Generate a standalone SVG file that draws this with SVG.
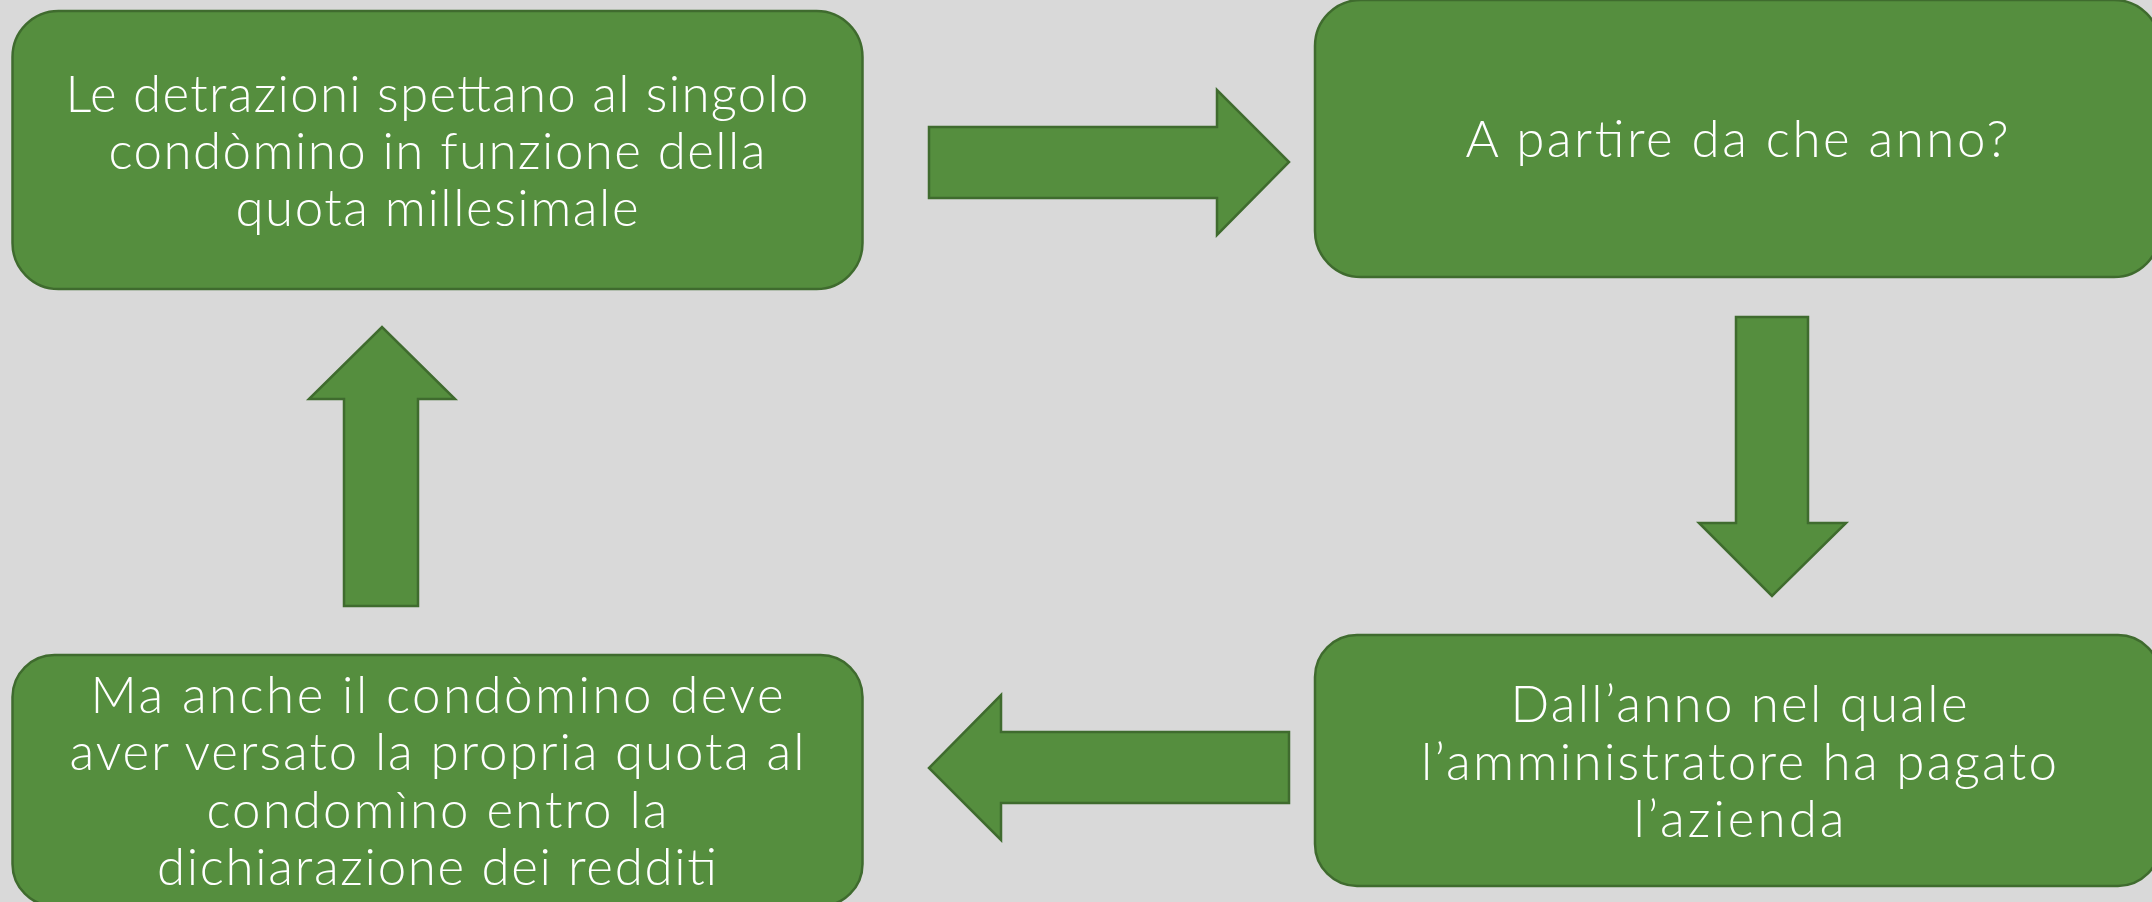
<svg xmlns="http://www.w3.org/2000/svg" width="2152" height="902" viewBox="0 0 2152 902">
<style>
.box{fill:#558E3E;stroke:#3F6B2E;stroke-width:2.5}
.arr{fill:#558E3E;stroke:#3F6B2E;stroke-width:2.5;stroke-linejoin:miter}
.t{font-family:Lato,"Open Sans","Liberation Sans",sans-serif;font-weight:300;font-size:51px;fill:#FFFFFF;text-anchor:middle}
</style>
<rect width="2152" height="902" fill="#D9D9D9"/>
<g id="connectors">
<polygon class="arr" points="929,127 1217,127 1217,90 1289,162 1217,235 1217,198 929,198"/>
<polygon class="arr" points="1736,317 1808,317 1808,523 1846,523 1772,596 1699,523 1736,523"/>
<polygon class="arr" points="1289,732 1001,732 1001,695 929,768 1001,840 1001,803 1289,803"/>
<polygon class="arr" points="418,606 344,606 344,399 309,399 382,327 455,399 418,399"/>
</g>
<g id="node1">
<rect class="box" x="12.5" y="11" width="850" height="278" rx="46" ry="46"/>
<text class="t" x="437" y="112" textLength="743" lengthAdjust="spacing">Le detrazioni spettano al singolo</text>
<text class="t" x="437" y="169" textLength="657" lengthAdjust="spacing">condòmino in funzione della</text>
<text class="t" x="437" y="226" textLength="403" lengthAdjust="spacing">quota millesimale</text>
</g>
<g id="node2">
<rect class="box" x="1315" y="0" width="845" height="277" rx="46" ry="46"/>
<text class="t" x="1737" y="157" textLength="543" lengthAdjust="spacing">A partire da che anno?</text>
</g>
<g id="node3">
<rect class="box" x="1315" y="635" width="845" height="251" rx="42" ry="42"/>
<text class="t" x="1739" y="722" textLength="457" lengthAdjust="spacing">Dall’anno nel quale</text>
<text class="t" x="1739" y="780" textLength="636" lengthAdjust="spacing">l’amministratore ha pagato</text>
<text class="t" x="1739" y="837" textLength="211" lengthAdjust="spacing">l’azienda</text>
</g>
<g id="node4">
<rect class="box" x="12.5" y="655" width="850" height="251" rx="42" ry="42"/>
<text class="t" x="437" y="713" textLength="693" lengthAdjust="spacing">Ma anche il condòmino deve</text>
<text class="t" x="437" y="770" textLength="735" lengthAdjust="spacing">aver versato la propria quota al</text>
<text class="t" x="437" y="828" textLength="461" lengthAdjust="spacing">condomìno entro la</text>
<text class="t" x="437" y="885" textLength="560" lengthAdjust="spacing">dichiarazione dei redditi</text>
</g>
</svg>
